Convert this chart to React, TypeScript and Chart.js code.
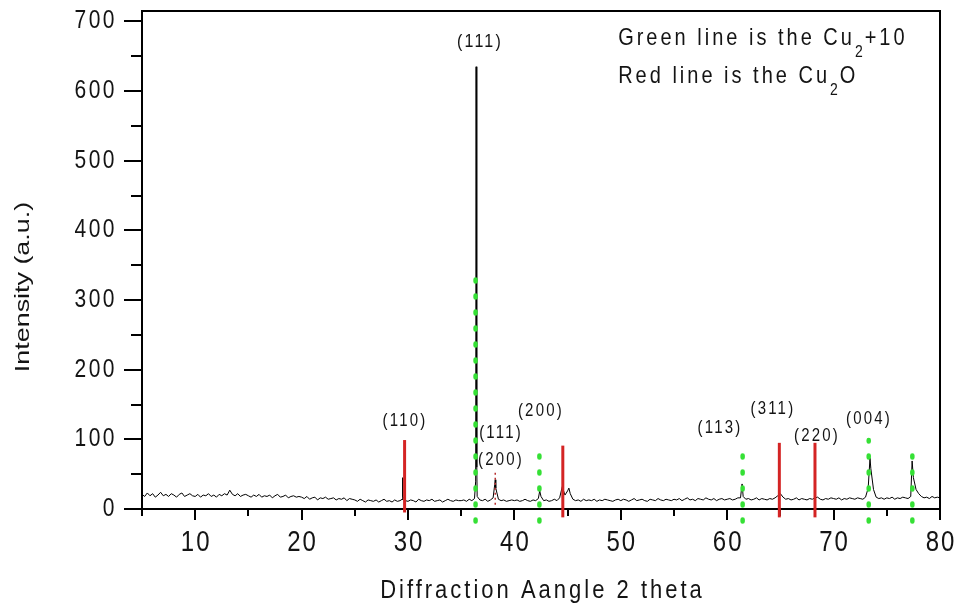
import React, { useEffect, useRef } from 'react';
import { Chart, registerables } from 'chart.js';

Chart.register(...registerables);

// ---------- data ----------
const thetaStart = 5;
const thetaStep = 0.25;
// measured pattern sampled every 0.25 deg from 5 to 80
const baselineIntensity = [
  21, 18, 23, 19, 22, 17, 20, 24, 19, 21, 18, 22, 20, 17, 21, 23, 18, 20, 22, 19,
  18, 21, 17, 20, 19, 22, 18, 20, 17, 21, 19, 22, 20, 27, 21, 19, 22, 18, 20, 21,
  19, 17, 20, 18, 21, 17, 19, 18, 20, 16, 19, 21, 17, 18, 20, 16, 18, 19, 17, 18,
  17, 15, 18, 14, 16, 17, 13, 16, 15, 17, 14, 15, 16, 13, 15, 14, 16, 12, 15, 14,
  13, 11, 14, 12, 10, 13, 12, 11, 13, 10, 12, 14, 11, 12, 10, 13, 11, 12, 13, 12,
  11, 13, 12, 10, 14, 12, 11, 13, 12, 14, 11, 12, 13, 10, 12, 14, 12, 11, 13, 12,
  12, 13, 11, 14, 12, 15, 18, 13, 12, 14, 11, 13, 16, 30, 14, 12, 13, 11, 12, 13,
  12, 13, 11, 12, 14, 12, 11, 13, 12, 15, 18, 12, 13, 11, 12, 14, 12, 16, 32, 20,
  26, 22, 14, 12, 13, 11, 14, 12, 13, 12, 14, 11, 13, 12, 14, 13, 12, 11, 13, 14,
  12, 14, 13, 11, 13, 15, 12, 13, 14, 12, 11, 14, 13, 12, 15, 13, 12, 14, 13, 12,
  14, 13, 15, 12, 14, 16, 13, 14, 12, 15, 14, 13, 16, 14, 13, 15, 12, 14, 15, 13,
  14, 15, 13, 14, 16, 16, 18, 14, 15, 13, 14, 16, 13, 15, 14, 13, 15, 14, 16, 19,
  22, 17, 14, 15, 13, 14, 16, 13, 15, 14, 13, 15, 14, 16, 17, 14, 13, 15, 14, 16,
  15, 14, 16, 13, 15, 14, 16, 15, 14, 16, 15, 14, 17, 30, 58, 28, 17, 15, 16, 14,
  16, 15, 17, 14, 16, 15, 17, 16, 15, 18, 45, 28, 22, 18, 16, 17, 15, 18, 16, 17,
  16,
];
// sharp reflection maxima between the 0.25 deg samples
const peakTheta = [29.45, 29.48, 29.52, 36.36, 36.4, 36.45, 36.48, 38.15, 38.2, 42.38, 45.12, 61.4, 73.42, 77.38];
const peakIntensity = [14, 45, 18, 40, 635, 413, 60, 35, 42, 26, 30, 36, 73, 69];

// Cu2O reference (red)
const cu2oTheta = [29.68, 44.55, 64.9, 68.25];
const cu2oTop = [99, 91, 95, 95];
const cu2oBottom = [-5, -12, -12, -12];
// Cu reference (green dotted)
const cuTheta = [36.35, 42.35, 61.45, 73.3, 77.4];
const cuTop = [330, 88, 86, 99, 89];
const cuBottom = [-18, -18, -18, -18, -18];
// small red dotted marker
const markTheta = [38.2];
const markTop = [53];
const markBottom = [6];

const peakLabels = ['(111)', '(110)', '(111)', '(200)', '(200)', '(113)', '(311)', '(220)', '(004)'];
const peakLabelTheta = [36.67, 29.62, 38.65, 38.65, 42.4, 59.23, 64.2, 68.35, 73.23];
const peakLabelIntensity = [670.5, 126.3, 109.1, 70.4, 140.7, 116.3, 143.6, 104.8, 129.2];

const xMajorTicks = [10, 20, 30, 40, 50, 60, 70, 80];
const xMinorTicks = [5, 15, 25, 35, 45, 55, 65, 75];
const yMajorTicks = [0, 100, 200, 300, 400, 500, 600, 700];
const yMinorTicks = [50, 150, 250, 350, 450, 550, 650];

const xTitle = 'Diffraction Aangle 2 theta';
const yTitle = 'Intensity (a.u.)';
const legendLines = [
  ['Green line is the Cu', '2', '+10'],
  ['Red line is the Cu', '2', 'O'],
];
const legendTheta = 49.75;
const legendIntensity = [666, 612];

// ---------- helpers ----------
const FONT = '"Liberation Sans", Arial, Helvetica, sans-serif';
const TEXT = '#141414';

type TOpts = {
  size: number; sx?: number; sy?: number; ls?: number; rotate?: number;
  align?: CanvasTextAlign; baseline?: CanvasTextBaseline;
};
function drawText(ctx: CanvasRenderingContext2D, text: string, x: number, y: number, o: TOpts) {
  ctx.save();
  ctx.translate(x, y);
  if (o.rotate) ctx.rotate(o.rotate);
  ctx.scale(o.sx ?? 1, o.sy ?? 1);
  ctx.font = `${o.size}px ${FONT}`;
  (ctx as any).letterSpacing = `${o.ls ?? 0}px`;
  ctx.textAlign = o.align ?? 'center';
  ctx.textBaseline = o.baseline ?? 'alphabetic';
  ctx.fillStyle = TEXT;
  ctx.fillText(text, 0, 0);
  const w = ctx.measureText(text).width * (o.sx ?? 1);
  ctx.restore();
  return w;
}

const framePlugin = {
  id: 'frame',
  beforeDatasetsDraw(chart: any) {
    const { ctx, chartArea: a, scales } = chart;
    ctx.save();
    ctx.strokeStyle = '#000';
    ctx.lineWidth = 2;
    ctx.strokeRect(a.left, a.top, a.right - a.left, a.bottom - a.top);
    ctx.beginPath();
    xMajorTicks.forEach((v) => {
      const px = Math.round(scales.x.getPixelForValue(v));
      ctx.moveTo(px, a.bottom); ctx.lineTo(px, a.bottom + 11);
    });
    xMinorTicks.forEach((v) => {
      const px = Math.round(scales.x.getPixelForValue(v));
      ctx.moveTo(px, a.bottom); ctx.lineTo(px, a.bottom + 7);
    });
    yMajorTicks.forEach((v) => {
      const py = Math.round(scales.y.getPixelForValue(v));
      ctx.moveTo(a.left, py); ctx.lineTo(a.left - 18, py);
    });
    yMinorTicks.forEach((v) => {
      const py = Math.round(scales.y.getPixelForValue(v));
      ctx.moveTo(a.left, py); ctx.lineTo(a.left - 11, py);
    });
    ctx.stroke();
    ctx.restore();
  },
  afterDraw(chart: any) {
    const { ctx, chartArea: a, scales } = chart;
    const sx = scales.x, sy = scales.y;
    // tick labels
    xMajorTicks.forEach((v) => {
      drawText(ctx, String(v), sx.getPixelForValue(v) + 1, 543, { size: 24, sy: 1.2, ls: 2, baseline: 'middle' });
    });
    yMajorTicks.forEach((v) => {
      drawText(ctx, String(v), 117, sy.getPixelForValue(v), { size: 21, sy: 1.2, ls: 2.5, align: 'right', baseline: 'middle' });
    });
    // axis titles
    drawText(ctx, xTitle, (a.left + a.right) / 2 + 1.5, 598, { size: 22, sy: 1.2, ls: 3 });
    drawText(ctx, yTitle, 23, 287, { size: 21, sx: 1.28, rotate: -Math.PI / 2, baseline: 'middle' });
    // peak labels
    peakLabels.forEach((t, i) => {
      const size = i === 0 ? 16 : 15;
      drawText(ctx, t, sx.getPixelForValue(peakLabelTheta[i]) + 1, sy.getPixelForValue(peakLabelIntensity[i]),
        { size, sy: 1.2, ls: 2.2, baseline: 'middle' });
    });
    // legend text with subscripts
    legendLines.forEach((parts, i) => {
      let x = sx.getPixelForValue(legendTheta);
      const y = sy.getPixelForValue(legendIntensity[i]);
      x += drawText(ctx, parts[0], x, y, { size: 20, sy: 1.2, ls: 3, align: 'left' });
      x += drawText(ctx, parts[1], x, y + 12, { size: 14, sy: 1.2, ls: 2, align: 'left' });
      drawText(ctx, parts[2], x, y, { size: 20, sy: 1.2, ls: 3, align: 'left' });
    });
  },
};

function buildPattern() {
  const pts: { x: number; y: number }[] = baselineIntensity.map((y, i) => ({ x: thetaStart + i * thetaStep, y }));
  peakTheta.forEach((x, i) => pts.push({ x, y: peakIntensity[i] }));
  pts.sort((p, q) => p.x - q.x);
  return pts;
}

export default function App() {
  const ref = useRef<HTMLCanvasElement>(null);
  useEffect(() => {
    document.body.style.margin = '0';
    const greenSets = cuTheta.map((t, i) => ({
      data: [{ x: t, y: cuBottom[i] }, { x: t, y: cuTop[i] }],
      showLine: true, borderColor: '#35e035', borderWidth: 4.5, borderDash: [2, 14],
      borderCapStyle: 'round', pointRadius: 0, clip: false,
    }));
    const redSets = cu2oTheta.map((t, i) => ({
      data: [{ x: t, y: cu2oBottom[i] }, { x: t, y: cu2oTop[i] }],
      showLine: true, borderColor: '#d42424', borderWidth: 3, pointRadius: 0, clip: false,
    }));
    const markSets = markTheta.map((t, i) => ({
      data: [{ x: t, y: markBottom[i] }, { x: t, y: markTop[i] }],
      showLine: true, borderColor: '#b83030', borderWidth: 1.5, borderDash: [2, 3], pointRadius: 0, clip: false,
    }));
    const chart = new Chart(ref.current!, {
      type: 'scatter',
      data: {
        datasets: [
          ...greenSets,
          ...redSets,
          ...markSets,
          {
            data: buildPattern(), showLine: true, borderColor: '#000', borderWidth: 1,
            pointRadius: 0, tension: 0,
          },
        ] as any,
      },
      options: {
        animation: false,
        responsive: false,
        devicePixelRatio: 1,
        layout: { padding: { top: 11, right: 18, left: 0, bottom: 0 } },
        plugins: { legend: { display: false }, tooltip: { enabled: false } },
        elements: { point: { radius: 0 } },
        scales: {
          x: {
            type: 'linear', min: 5, max: 80,
            ticks: { display: false }, grid: { display: false }, border: { display: false },
            afterFit: (s: any) => { s.height = 101; },
          },
          y: {
            type: 'linear', min: 0, max: 715,
            ticks: { display: false }, grid: { display: false }, border: { display: false },
            afterFit: (s: any) => { s.width = 142; },
          },
        },
      } as any,
      plugins: [framePlugin],
    });
    return () => chart.destroy();
  }, []);
  return (
    <div style={{ width: 958, height: 610, background: '#fff' }}>
      <canvas ref={ref} width={958} height={610} style={{ display: 'block', width: 958, height: 610 }} />
    </div>
  );
}
